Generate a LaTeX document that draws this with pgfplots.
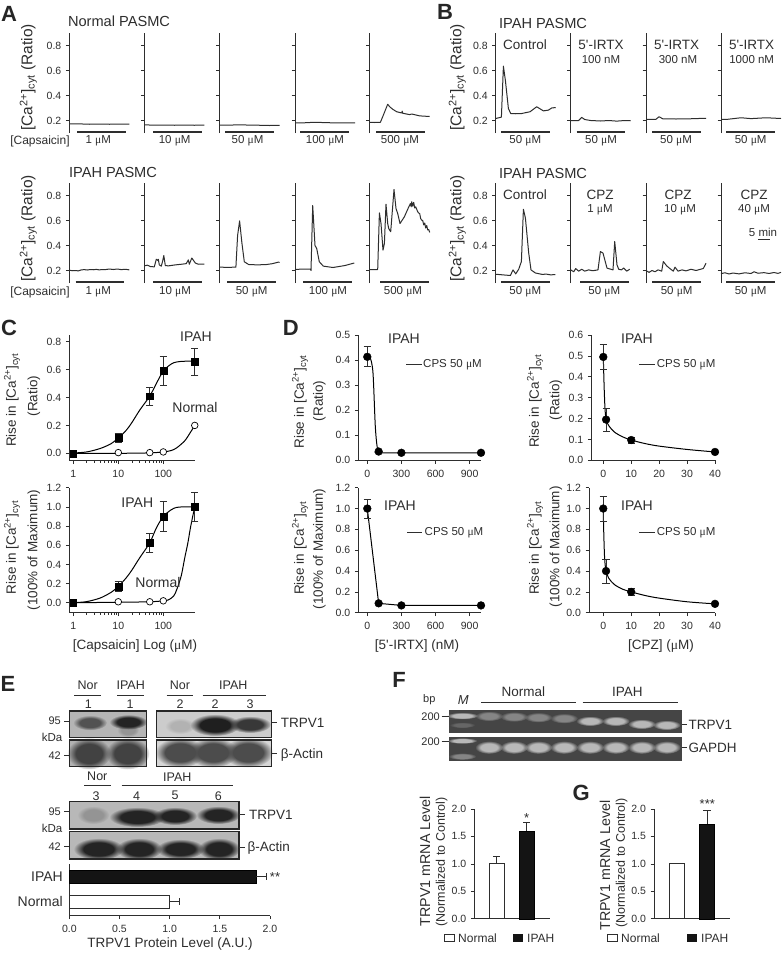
\documentclass[border=0pt]{standalone}
\usepackage{pgfplots}
\pgfplotsset{compat=1.18}
\usetikzlibrary{fadings}
\usepackage{fontspec}
\setmainfont{Liberation Sans}
\newfontfamily\sy{Liberation Serif}
\definecolor{ink}{HTML}{2E2E2E}
\newcommand\fs[1]{\fontsize{#1}{#1}\selectfont}
\newcommand\um{{\sy μ}}
\newcommand\ca{[Ca\textsuperscript{2+}]\textsubscript{cyt}}
\newcommand\qq{\textquotesingle}
\newcommand\lbl[4]{\node[text=ink,inner sep=0pt,font=\fs{#3}] at (#1,#2) {#4};}
\newcommand\llbl[4]{\node[text=ink,inner sep=0pt,anchor=west,font=\fs{#3}] at (#1,#2) {#4};}
\newcommand\rlbl[4]{\node[text=ink,inner sep=0pt,anchor=east,font=\fs{#3}] at (#1,#2) {#4};}
\newcommand\vlbl[4]{\node[text=ink,inner sep=0pt,rotate=90,font=\fs{#3}] at (#1,#2) {#4};}
\newcommand\pl[3]{\node[text=black!85,inner sep=0pt,font=\fs{22}\bfseries] at (#1,#2) {#3};}
\newcommand\hb[3]{\draw[ink,line width=1.9pt] (#1,#3)--(#2,#3);}
\newcommand\hl[3]{\draw[ink,line width=.8pt] (#1,#3)--(#2,#3);}
\pgfdeclareradialshading{blobs}{\pgfpointorigin}{color(0bp)=(pgftransparent!0);color(15bp)=(pgftransparent!0);color(25bp)=(pgftransparent!100);color(50bp)=(pgftransparent!100)}
\pgfdeclarefading{blob}{\pgfuseshading{blobs}}
\colorlet{lk}{black!86}\colorlet{lm}{black!68}\colorlet{lf}{black!42}\colorlet{la}{black!74}
\colorlet{hk}{black!88}\colorlet{hm}{black!78}\colorlet{hf}{black!30}\colorlet{ha}{black!70}
\colorlet{bb}{black!28}\colorlet{bm}{black!48}\colorlet{bf}{black!60}
\newcommand\band[5]{\fill[#1,path fading=blob] (#2,#3) ellipse [x radius=#4pt,y radius=#5pt];}
\pgfplotsset{
 base/.style={scale only axis,anchor=south west,axis lines=left,
  axis line style={ink,line width=.8pt},
  x axis line style={-},y axis line style={-},
  tick style={ink,line width=.7pt},major tick length=3.5pt,minor tick length=2pt,
  tick align=outside,tick label style={font=\fs{10.5},text=ink},
  /pgf/number format/assume math mode=true,clip=false,
  x tick label style={yshift=-2.5pt},
  y tick label style={/pgf/number format/fixed,/pgf/number format/fixed zerofill,/pgf/number format/precision=1,xshift=-1pt}},
 trace/.style={base,width=60pt,height=100pt,xmin=0,xmax=60,ymin=0.1,ymax=0.9,
  x axis line style={draw=none},xtick=\empty,ytick={0.2,0.4,0.6,0.8},yticklabels={}},
 lab/.style={yticklabels={0.2,0.4,0.6,0.8}},
 tr/.style={ink,line width=1pt,no marks,line join=round},
 curve/.style={black,line width=1pt,smooth,tension=.5,no marks},
 ebar/.style={only marks,error bars/y dir=both,error bars/y explicit,
  error bars/error bar style={ink,line width=.8pt},
  error bars/error mark options={rotate=90,ink,mark size=3.6pt,line width=.8pt}},
 sq/.style={mark=square*,mark size=3.4pt,mark options={fill=black,draw=black}},
 oc/.style={only marks,mark=*,mark size=3.3pt,mark options={fill=white,draw=black,line width=.7pt}},
 bc/.style={mark=*,mark size=3.9pt,mark options={fill=black,draw=black}},
 vbars/.style={base,xtick=\empty,width=75.4pt,height=109.7pt,
  ymin=0,ymax=2,ytick={0,0.5,1,1.5,2},bar width=15.3pt,
  error bars/error bar style={ink,line width=.8pt},
  error bars/error mark options={rotate=90,ink,mark size=3.6pt,line width=.8pt}},
}
\newcommand\trc[4]{\begin{axis}[trace,at={(#1pt,-#2pt)},#3]\addplot[tr] coordinates {#4};\end{axis}}
\begin{document}
\begin{tikzpicture}[x=1pt,y=-1pt]
\fill[white] (0,0) rectangle (782,954);
% ---- Panel A
\pl{9}{13.5}{A}
\lbl{119}{21.7}{14.6}{Normal PASMC}
\lbl{113}{172}{14.6}{IPAH PASMC}
\vlbl{28.3}{77.3}{15.5}{\ca{} (Ratio)}
\vlbl{28.3}{228.3}{15.5}{\ca{} (Ratio)}
\trc{69.3}{133}{lab}{(0,.172)(10,.173)(20,.170)(30,.172)(40,.170)(50,.171)(60,.172)}
\trc{144.3}{133}{}{(0,.165)(10,.163)(20,.164)(30,.162)(40,.163)(50,.162)(60,.163)}
\trc{219.6}{133}{}{(0,.163)(10,.163)(20,.166)(30,.163)(40,.162)(50,.160)(60,.162)}
\trc{295}{133}{}{(0,.182)(10,.182)(20,.186)(30,.183)(40,.181)(50,.182)(60,.182)}
\trc{369.7}{133}{}{(0,.186)(5,.184)(10.7,.186)(13,.23)(15,.27)(18,.33)(20,.31)(23,.29)(27,.27)(32,.26)(32.5,.275)(33,.258)(40,.247)(42,.252)(50,.237)(60,.232)}
\trc{69.3}{283}{lab}{(0,.203)(3,.198)(6,.200)(9,.197)(12,.205)(15,.207)(18,.204)(21,.208)(24,.206)(27,.209)(30,.205)(33,.208)(36,.207)(40,.212)(44,.208)(48,.212)(52,.207)(56,.210)(60,.205)}
\trc{144.3}{283}{}{(0,.237)(3,.243)(6,.232)(10,.229)(12,.29)(13.5,.28)(14,.29)(15,.245)(17,.235)(18.5,.28)(19.5,.32)(21,.24)(24,.237)(31,.245)(37,.25)(42,.255)(44,.285)(45,.25)(47.5,.30)(51,.26)(54,.25)(60,.252)}
\trc{219.6}{283}{}{(0,.227)(8,.225)(16.3,.227)(18,.48)(20,.597)(22.3,.42)(24.7,.27)(29,.248)(38,.245)(47,.248)(53,.255)(58.7,.267)(60,.265)}
\trc{295}{283}{}{(0,.208)(8,.212)(15.5,.212)(16,.20)(17.7,.72)(20,.40)(21.7,.376)(24.3,.27)(28.3,.235)(38,.224)(50,.24)(59.3,.26)}
\trc{369.7}{283}{}{(0,.208)(8,.208)(9.7,.661)(11.3,.576)(13.3,.363)(14.7,.416)(16.3,.73)(18,.576)(19,.536)(21,.51)(24.3,.848)(26.3,.696)(28,.656)(30.3,.576)(34.7,.63)(38,.69)(40.7,.736)(41.5,.71)(42,.75)(43,.715)(44,.745)(45,.70)(46,.71)(48,.67)(49,.66)(50,.655)(51,.615)(52,.603)(53,.60)(54,.565)(55,.58)(56,.54)(57,.56)(58,.525)(59,.528)(60,.505)}
\lbl{40}{141}{12}{[Capsaicin]}\lbl{40}{292}{12}{[Capsaicin]}
\lbl{98.3}{141}{11.5}{1 \um M}\lbl{174.7}{141}{11.5}{10 \um M}\lbl{247.5}{141}{11.5}{50 \um M}\lbl{325}{141}{11.5}{100 \um M}\lbl{400}{141}{11.5}{500 \um M}
\lbl{98.3}{292}{11.5}{1 \um M}\lbl{175}{292}{11.5}{10 \um M}\lbl{251.7}{292}{11.5}{50 \um M}\lbl{328}{292}{11.5}{100 \um M}\lbl{403}{292}{11.5}{500 \um M}
\hb{77}{125.5}{131.7}\hb{153}{202}{131.7}\hb{225}{274}{131.7}\hb{300}{349}{131.7}\hb{376}{425}{131.7}
\hb{75.5}{124}{282}\hb{153}{202}{282}\hb{227}{276}{282}\hb{303}{352}{282}\hb{380}{429}{282}
% ---- Panel B
\pl{445}{12}{B}
\lbl{543}{23.7}{14.6}{IPAH PASMC}
\lbl{543}{173}{14.6}{IPAH PASMC}
\vlbl{457.3}{77.3}{15.5}{\ca{} (Ratio)}
\vlbl{457.3}{228.3}{15.5}{\ca{} (Ratio)}
\trc{495.7}{133}{lab}{(0,.216)(5.7,.227)(7.7,.635)(9.7,.52)(12.7,.296)(15,.256)(20,.254)(26,.256)(34.3,.27)(41,.31)(47.7,.277)(52.7,.283)(56,.30)(60,.304)}
\trc{570.7}{133}{}{(0,.2)(8,.2)(11,.225)(14,.208)(20,.2)(30,.196)(38,.2)(46,.195)(54,.2)(60,.198)}
\trc{646}{133}{}{(0,.21)(10,.21)(13,.23)(17,.213)(30,.212)(45,.214)(60,.218)}
\trc{721}{133}{}{(0,.21)(7,.21)(20,.222)(30,.215)(45,.222)(60,.216)}
\trc{495.7}{283}{lab}{(0,.17)(14.7,.16)(17.3,.205)(20,.173)(23,.21)(25.7,.272)(27.7,.69)(29.7,.62)(33,.34)(35.3,.205)(39.7,.18)(47,.168)(50,.172)(55,.165)(59.7,.168)}
\trc{570.7}{283}{}{(0,.205)(3,.19)(5,.215)(8,.195)(11,.21)(14,.195)(18,.205)(22,.198)(27.3,.205)(29.7,.352)(32.3,.339)(36.3,.219)(42.3,.205)(44,.432)(46.3,.245)(48,.21)(50.7,.205)(53,.22)(56,.195)(59,.21)}
\trc{646}{283}{}{(0,.2)(3,.185)(6,.2)(9,.19)(12,.205)(15.7,.195)(17.3,.272)(20.7,.237)(24,.215)(27.3,.195)(29,.227)(32,.195)(36,.205)(40,.197)(45,.21)(50,.2)(57.3,.216)(60,.259)}
\trc{721}{283}{}{(0,.175)(4,.182)(8,.172)(12,.18)(18,.173)(24,.182)(30,.176)(33,.19)(37,.178)(43,.183)(48,.176)(53,.184)(57,.177)(60,.185)}
\lbl{525}{45}{13.5}{Control}\lbl{601}{45}{13.5}{5\qq-IRTX}\lbl{676.7}{45}{13.5}{5\qq-IRTX}\lbl{751.7}{45}{13.5}{5\qq-IRTX}
\lbl{601}{60}{11.5}{100 nM}\lbl{678}{60}{11.5}{300 nM}\lbl{751.7}{60}{11.5}{1000 nM}
\lbl{525}{195}{13.5}{Control}\lbl{600}{195}{13.5}{CPZ}\lbl{678}{195}{13.5}{CPZ}\lbl{754}{195}{13.5}{CPZ}
\lbl{600}{209.5}{11.5}{1 \um M}\lbl{680}{209.5}{11.5}{10 \um M}\lbl{754}{209.5}{11.5}{40 \um M}
\lbl{763}{232.3}{11.5}{5 min}\hl{758.3}{770}{239}
\lbl{525.3}{141}{11.5}{50 \um M}\lbl{601}{141}{11.5}{50 \um M}\lbl{676}{141}{11.5}{50 \um M}\lbl{750.7}{141}{11.5}{50 \um M}
\lbl{525.3}{292}{11.5}{50 \um M}\lbl{604.3}{292}{11.5}{50 \um M}\lbl{676.7}{292}{11.5}{50 \um M}\lbl{750.7}{292}{11.5}{50 \um M}
\hb{501}{550}{131.7}\hb{576.5}{625}{131.7}\hb{652}{701}{131.7}\hb{726}{775}{131.7}
\hb{501}{550}{282}\hb{580}{629}{282}\hb{652}{701}{282}\hb{726}{775}{282}
% ---- Panel C
\pl{9}{328}{C}
\vlbl{12}{400}{13.5}{Rise in \ca}\vlbl{34}{396}{13.5}{(Ratio)}
\vlbl{12}{547.5}{13.5}{Rise in \ca}\vlbl{34}{550}{13.5}{(100\% of Maximum)}
\begin{axis}[base,at={(69.3pt,-460.7pt)},width=125.7pt,height=125.7pt,xmode=log,
 xmin=0.815,xmax=506,ymin=-0.053,ymax=0.848,xtick={1,10,100},xticklabels={1,10,100},ytick={0,0.2,0.4,0.6,0.8}]
\addplot[curve] coordinates {(1,.002)(2,.01)(4,.035)(7,.07)(10,.11)(15,.165)(20,.22)(30,.31)(50,.41)(70,.5)(100,.59)(150,.64)(200,.655)(300,.66)(500,.66)};
\addplot[curve] coordinates {(1,0)(10,0)(50,.003)(100,.01)(150,.02)(200,.04)(300,.09)(400,.15)(500,.2)};
\addplot[ebar,sq] coordinates {(1,0) +- (0,.015) (10,.11) +- (0,.03) (50,.41) +- (0,.065) (100,.59) +- (0,.105) (500,.655) +- (0,.1)};
\addplot[oc] coordinates {(10,.005)(50,.005)(100,.01)(500,.2)};
\end{axis}
\begin{axis}[base,at={(69.3pt,-612.7pt)},width=125.7pt,height=125pt,xmode=log,
 xmin=0.815,xmax=506,ymin=-0.104,ymax=1.2,xtick={1,10,100},xticklabels={1,10,100},ytick={0,0.2,0.4,0.6,0.8,1,1.2}]
\addplot[curve] coordinates {(1,0)(2,.012)(4,.05)(7,.11)(10,.17)(15,.26)(20,.34)(30,.47)(50,.625)(70,.78)(100,.9)(150,.97)(200,.995)(300,1)(500,1)};
\addplot[curve] coordinates {(1,0)(10,.005)(50,.01)(100,.02)(130,.03)(170,.07)(200,.14)(250,.28)(300,.47)(350,.62)(400,.78)(450,.9)(500,1)};
\addplot[oc] coordinates {(10,.01)(50,.01)(100,.02)};
\addplot[ebar,sq] coordinates {(1,0) +- (0,.01) (10,.17) +- (0,.05) (50,.625) +- (0,.1) (100,.9) +- (0,.16) (500,1) +- (0,.15)};
\end{axis}
\lbl{196}{337}{14}{IPAH}\lbl{195}{407}{14}{Normal}
\lbl{137.3}{503}{14}{IPAH}\lbl{158}{582}{14}{Normal}
\lbl{135}{646}{13.5}{[Capsaicin] Log (\um M)}
% ---- Panel D
\pl{290.7}{328}{D}
\vlbl{300}{401.7}{13.5}{Rise in \ca}\vlbl{319.3}{400.8}{13.5}{(Ratio)}
\vlbl{300}{548}{13.5}{Rise in \ca}\vlbl{319.3}{549}{13.5}{(100\% of Maximum)}
\begin{axis}[base,at={(358.3pt,-460.3pt)},width=122.7pt,height=125.3pt,xmin=-79,xmax=1000,ymin=0,ymax=.5,
 xtick={0,300,600,900},ytick={0,.1,.2,.3,.4,.5}]
\addplot[curve] coordinates {(0,.413)(25,.41)(50,.35)(70,.14)(85,.06)(100,.035)(150,.03)(1000,.03)};
\addplot[ebar,bc] coordinates {(0,.413) +- (0,.04) (100,.035) +- (0,0) (300,.03) +- (0,0) (1000,.03) +- (0,0)};
\end{axis}
\begin{axis}[base,at={(358.3pt,-612.7pt)},width=122.7pt,height=125pt,xmin=-79,xmax=1000,ymin=0,ymax=1.2,
 xtick={0,300,600,900},ytick={0,.2,.4,.6,.8,1,1.2}]
\addplot[black,line width=1pt,no marks] coordinates {(0,1)(100,.09)(300,.07)(1000,.07)};
\addplot[ebar,bc] coordinates {(0,1) +- (0,.09) (100,.09) +- (0,0) (300,.07) +- (0,0) (1000,.07) +- (0,0)};
\end{axis}
\vlbl{535}{401}{13.5}{Rise in \ca}\vlbl{556}{400}{13.5}{(Ratio)}
\vlbl{535}{548}{13.5}{Rise in \ca}\vlbl{556}{546.7}{13.5}{(100\% of Maximum)}
\begin{axis}[base,at={(591.3pt,-460.3pt)},width=123.7pt,height=125.3pt,xmin=-4.3,xmax=40,ymin=0,ymax=.6,
 xtick={0,10,20,30,40},ytick={0,.1,.2,.3,.4,.5,.6}]
\addplot[curve] coordinates {(0,.495)(.3,.35)(.6,.25)(1,.195)(2,.165)(4,.135)(7,.112)(10,.097)(15,.08)(20,.068)(30,.052)(40,.04)};
\addplot[ebar,bc] coordinates {(0,.495) +- (0,.06) (1,.195) +- (0,.055) (10,.097) +- (0,.015) (40,.04) +- (0,0)};
\end{axis}
\begin{axis}[base,at={(589pt,-612.7pt)},width=126pt,height=125pt,xmin=-5.1,xmax=40,ymin=0,ymax=1.2,
 xtick={0,10,20,30,40},ytick={0,.2,.4,.6,.8,1,1.2}]
\addplot[curve] coordinates {(0,1)(.2,.75)(.5,.52)(1,.4)(2,.33)(4,.27)(7,.225)(10,.2)(15,.165)(20,.14)(30,.105)(40,.085)};
\addplot[ebar,bc] coordinates {(0,1) +- (0,.12) (1,.4) +- (0,.115) (10,.2) +- (0,.03) (40,.085) +- (0,0)};
\end{axis}
\lbl{404}{339}{14}{IPAH}\lbl{400}{506}{14}{IPAH}\lbl{637}{339}{14}{IPAH}\lbl{637}{506}{14}{IPAH}
\hl{406}{421.7}{364}\llbl{423}{365}{11.5}{CPS 50 \um M}
\hl{407}{422}{532}\llbl{424.5}{533}{11.5}{CPS 50 \um M}
\hl{639}{655}{364}\llbl{656.7}{365}{11.5}{CPS 50 \um M}
\hl{639}{655}{532}\llbl{656.7}{533}{11.5}{CPS 50 \um M}
\lbl{417}{646}{13.5}{[5\qq-IRTX] (nM)}
\lbl{661}{646}{13.5}{[CPZ] (\um M)}
% ---- Panel E blots
\pl{8}{684}{E}
\fill[black!29] (69.3,711) rectangle (146.7,737.3);
\fill[black!30] (69.3,740) rectangle (146.7,766.7);
\fill[black!20] (156.7,711) rectangle (271.7,737.3);
\fill[black!16] (156.7,740) rectangle (271.7,766.7);
\fill[black!28] (69.3,801.7) rectangle (239,829);
\fill[black!28] (69.3,831.7) rectangle (239,859);
\band{lf}{128}{730}{11}{7}
\band{lm}{90}{722.7}{17}{7.5}
\band{lk}{128.3}{722}{19}{7.5}
\band{la}{89}{753.5}{22}{16}
\band{la}{127.5}{753.5}{22}{16}
\band{hf}{180}{726}{15}{8}
\band{hk}{215}{725}{25}{11}
\band{hm}{250}{724.5}{21}{8.5}
\band{ha}{180}{752.5}{25}{15}
\band{ha}{213}{752.5}{25}{15}
\band{ha}{248}{752.5}{25}{15}
\band{lf}{93.3}{815}{16}{9}
\band{lk}{137.3}{817}{28}{10}
\band{lk}{175}{816}{22}{9}
\band{lk}{218.3}{815}{22}{9}
\band{lk}{98.5}{849}{25}{11}
\band{lk}{139}{849}{23}{11}
\band{lk}{180.3}{849}{24}{10}
\band{lk}{219}{849}{21}{11}
\foreach \a/\b/\c/\d in {69.3/711/146.7/737.3,69.3/740/146.7/766.7,156.7/711/271.7/737.3,156.7/740/271.7/766.7,69.3/801.7/239/829,69.3/831.7/239/859}
 \draw[black!85,line width=1.2pt] (\a,\b) rectangle (\c,\d);
\lbl{87.7}{685}{12.5}{Nor}\hl{74}{101}{695.3}\lbl{88.3}{704}{12.5}{1}
\lbl{130.7}{685}{12.5}{IPAH}\hl{117.3}{144.3}{695.3}\lbl{130}{704}{12.5}{1}
\lbl{180}{685}{12.5}{Nor}\hl{166.7}{193.3}{695.3}\lbl{180}{704}{12.5}{2}
\lbl{233.3}{685}{12.5}{IPAH}\hl{202.7}{265.7}{695.3}\lbl{215}{704}{12.5}{2}\lbl{250}{704}{12.5}{3}
\lbl{97.3}{776.7}{12.5}{Nor}\hl{84}{110.7}{785.3}\lbl{96}{795.7}{12.5}{3}
\lbl{177.3}{776.7}{12.5}{IPAH}\hl{121.7}{233.3}{785.3}\lbl{136.7}{795.7}{12.5}{4}\lbl{175}{795.7}{12.5}{5}\lbl{218.3}{795.7}{12.5}{6}
\rlbl{61}{721}{11}{95}\hl{64}{69.3}{721}\rlbl{62.5}{737.3}{11.5}{kDa}\rlbl{61}{755.7}{11}{42}\hl{64}{69.3}{755}
\rlbl{61}{811.7}{11}{95}\hl{64}{69.3}{811.7}\rlbl{62.5}{828.3}{11.5}{kDa}\rlbl{61}{846.7}{11}{42}\hl{64}{69.3}{846}
\hl{271.7}{276.7}{722.7}\llbl{280.7}{723}{13.5}{TRPV1}\hl{271.7}{276.7}{753}\llbl{280.7}{755}{13.5}{β-Actin}
\hl{239}{244.5}{814.3}\llbl{249}{814.5}{13.5}{TRPV1}\hl{239}{244.5}{847}\llbl{247.3}{847.7}{13.5}{β-Actin}
% ---- E bar chart
\begin{axis}[base,at={(69.3pt,-915.7pt)},width=200.7pt,height=51.4pt,xmin=0,xmax=2,ymin=-.563,ymax=1.494,
 xtick={0,.5,1,1.5,2},ytick={0,1},yticklabels={Normal,IPAH},
 y tick label style={font=\fs{14},xshift=1.5pt},y tick style={draw=none},
 x tick label style={/pgf/number format/fixed,/pgf/number format/fixed zerofill,/pgf/number format/precision=1},
 xbar,bar width=13pt,
 error bars/error bar style={ink,line width=.8pt},
 error bars/error mark options={rotate=90,ink,mark size=3.6pt,line width=.8pt}]
\addplot[fill=white,draw=ink,line width=.7pt,error bars/x dir=plus,error bars/x explicit,bar shift=0pt] coordinates {(1,0) +- (.1,0)};
\addplot[fill=black!92,draw=black,error bars/x dir=plus,error bars/x explicit,bar shift=0pt] coordinates {(1.86,1) +- (.1,0)};
\end{axis}
\lbl{275}{877.5}{13}{**}
\lbl{170}{944}{13.5}{TRPV1 Protein Level (A.U.)}
% ---- Panel F gel
\pl{399}{680}{F}
\fill[black!73] (449,710) rectangle (682.3,733.3);
\fill[black!73] (449,737.3) rectangle (682.3,760.7);
\band{bb}{462.3}{715.7}{16}{3.5}
\band{bf}{462.3}{725}{13}{3}
\foreach \x/\y in {489/716,514/716.7,538.3/717.3,564/718.3}{\band{bm}{\x}{\y}{14}{5}}
\foreach \x/\y in {590/721,615.7/721,641.7/724,666.7/725}{\band{bb}{\x}{\y}{14}{5}}
\band{bb}{462.3}{740.7}{15}{3}
\band{bm}{462.3}{756.3}{14}{3.5}
\foreach \x in {489,514,538.3,564,590,615.7,641.7,666.7}{\band{bb}{\x}{747.3}{14}{6.5}}
\lbl{429.3}{699.3}{11}{bp}\node[text=ink,inner sep=0pt,font=\fs{13}\itshape] at (463.3,700) {M};
\lbl{523.3}{692}{13.5}{Normal}\hl{481}{575.7}{702}
\lbl{627.3}{692}{13.5}{IPAH}\hl{582.7}{677.7}{702}
\rlbl{440}{716.3}{11}{200}\hl{441.7}{449}{716.3}
\rlbl{440}{741.7}{11}{200}\hl{441.7}{449}{741.7}
\hl{682.3}{687}{724}\llbl{688.3}{724.5}{13.5}{TRPV1}
\hl{682.3}{687}{747.3}\llbl{688.3}{748}{13.5}{GAPDH}
% ---- F, G bars
\vlbl{425}{861.3}{14.3}{TRPV1 mRNA Level}\vlbl{441.7}{862}{12.5}{(Normalized to Control)}
\begin{axis}[vbars,at={(474.3pt,-918.7pt)},xmin=-.747,xmax=1.767,width=75.4pt]
\addplot[ybar,bar shift=0pt,fill=white,draw=ink,line width=.8pt,error bars/y dir=plus,error bars/y explicit] coordinates {(0,1) +- (0,.13)};
\addplot[ybar,bar shift=0pt,fill=black!92,draw=black,error bars/y dir=plus,error bars/y explicit] coordinates {(1,1.6) +- (0,.15)};
\end{axis}
\lbl{526.7}{818}{13}{*}
\vlbl{605}{865.5}{14.3}{TRPV1 mRNA Level}\vlbl{621.7}{863}{12.5}{(Normalized to Control)}
\begin{axis}[vbars,at={(654pt,-918.7pt)},xmin=-.755,xmax=1.76,width=76pt]
\addplot[ybar,bar shift=0pt,fill=white,draw=ink,line width=.8pt] coordinates {(0,1)};
\addplot[ybar,bar shift=0pt,fill=black!92,draw=black,error bars/y dir=plus,error bars/y explicit] coordinates {(1,1.73) +- (0,.24)};
\end{axis}
\lbl{707.3}{804}{13}{***}
\pl{581.3}{792.7}{G}
\draw[ink,line width=.7pt,fill=white] (444,934.3) rectangle (454.3,941.7);\llbl{458}{938}{12}{Normal}
\fill[black!92] (512.7,934.3) rectangle (523.3,941.7);\llbl{527}{938}{12}{IPAH}
\draw[ink,line width=.7pt,fill=white] (607.3,934.3) rectangle (617.7,941.7);\llbl{621}{938}{12}{Normal}
\fill[black!92] (686.7,934.3) rectangle (697.3,941.7);\llbl{701}{938}{12}{IPAH}
\end{tikzpicture}
\end{document}
